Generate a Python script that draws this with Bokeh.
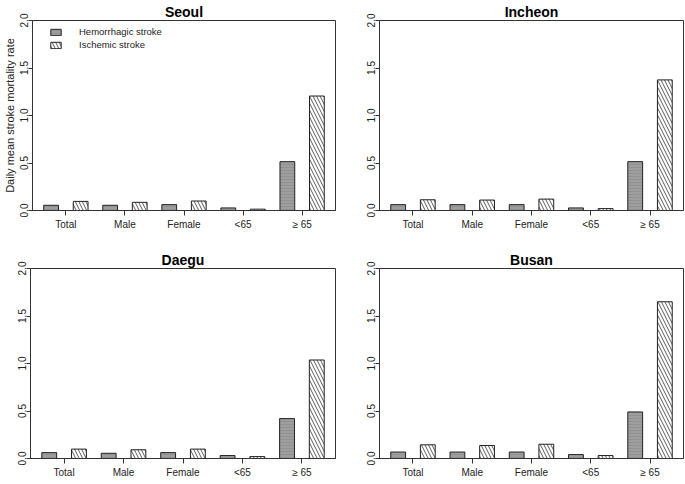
from bokeh.plotting import figure
from bokeh.models import Range1d, FixedTicker, Legend, LegendItem
from bokeh.layouts import column, row
from bokeh.embed import file_html
from bokeh.resources import INLINE

# ---------------- data ----------------
categories = ["Total", "Male", "Female", "<65", "\u2265 65"]
series_names = ["Hemorrhagic stroke", "Ischemic stroke"]

seoul_hem = [0.055, 0.055, 0.062, 0.027, 0.514]
seoul_isc = [0.096, 0.086, 0.100, 0.014, 1.205]

incheon_hem = [0.062, 0.062, 0.062, 0.027, 0.514]
incheon_isc = [0.113, 0.110, 0.120, 0.020, 1.375]

daegu_hem = [0.062, 0.055, 0.062, 0.031, 0.420]
daegu_isc = [0.099, 0.092, 0.099, 0.020, 1.037]

busan_hem = [0.068, 0.068, 0.068, 0.041, 0.490]
busan_isc = [0.144, 0.137, 0.150, 0.031, 1.650]

y_ticks = [0.0, 0.5, 1.0, 1.5, 2.0]
y_tick_labels = ["0.0", "0.5", "1.0", "1.5", "2.0"]
y_label = "Daily mean stroke mortality rate"

FONT = "Liberation Sans"
TXT = "#222222"
LINE = "#333333"


def make_panel(title, hem, isc, w, h, bl, br, bt, bb, ylabel=None, legend=False):
    n = len(categories)
    centers = [4 * i + 2.5 for i in range(n)]
    hem_x = [c - 1 for c in centers]
    isc_x = [c + 1 for c in centers]

    p = figure(width=w, height=h, output_backend="svg", toolbar_location=None,
               x_range=Range1d(0.24, 20.76), y_range=Range1d(0, 2),
               min_border_left=bl, min_border_right=br,
               min_border_top=bt, min_border_bottom=bb, title=title)
    p.background_fill_color = "white"
    p.border_fill_color = "white"
    p.outline_line_color = LINE
    p.outline_line_width = 1
    p.grid.visible = False

    p.title.text_font = FONT
    p.title.text_font_size = "14px"
    p.title.text_font_style = "bold"
    p.title.text_color = "black"
    p.title.align = "center"
    p.title.standoff = 2

    r1 = p.vbar(x=hem_x, top=hem, width=1.0, bottom=0,
                fill_color="#9e9e9e", line_color="#222222", line_width=1,
                hatch_pattern="-", hatch_color="#858585", hatch_scale=3, hatch_weight=0.5)
    r2 = p.vbar(x=isc_x, top=isc, width=1.0, bottom=0,
                fill_color="white", line_color="#222222", line_width=1,
                hatch_pattern="\\", hatch_color="#333333", hatch_scale=7, hatch_weight=0.8)

    xa = p.xaxis[0]
    xa.ticker = FixedTicker(ticks=centers)
    xa.major_label_overrides = {c: lab for c, lab in zip(centers, categories)}
    xa.minor_tick_line_color = None
    xa.major_tick_in = 0
    xa.major_tick_out = 5
    xa.major_tick_line_color = LINE
    xa.axis_line_color = LINE
    xa.major_label_text_font = FONT
    xa.major_label_text_font_size = "10px"
    xa.major_label_text_color = TXT
    xa.major_label_standoff = 3

    ya = p.yaxis[0]
    ya.ticker = FixedTicker(ticks=y_ticks)
    ya.major_label_overrides = {t: lab for t, lab in zip(y_ticks, y_tick_labels)}
    ya.minor_tick_line_color = None
    ya.major_tick_in = 0
    ya.major_tick_out = 4
    ya.major_tick_line_color = LINE
    ya.axis_line_color = LINE
    ya.major_label_orientation = "vertical"
    ya.major_label_text_font = FONT
    ya.major_label_text_font_size = "10px"
    ya.major_label_text_color = TXT
    ya.major_label_standoff = 1
    if ylabel:
        ya.axis_label = ylabel
        ya.axis_label_text_font = FONT
        ya.axis_label_text_font_size = "11px"
        ya.axis_label_text_font_style = "normal"
        ya.axis_label_text_color = TXT
        ya.axis_label_standoff = 1

    if legend:
        frame_h = h - bt - bb
        lg = Legend(items=[LegendItem(label=series_names[0], renderers=[r1]),
                           LegendItem(label=series_names[1], renderers=[r2])],
                    location=(17, frame_h - 13 - 26))
        lg.margin = 0
        lg.padding = 0
        lg.spacing = 0
        lg.border_line_color = None
        lg.background_fill_alpha = 0
        lg.glyph_width = 13
        lg.glyph_height = 8
        lg.label_height = 13
        lg.label_standoff = 17
        lg.label_text_font = FONT
        lg.label_text_font_size = "9.5px"
        lg.label_text_color = TXT
        p.add_layout(lg)
    return p


p1 = make_panel("Seoul", seoul_hem, seoul_isc, 349, 242, 30, 14, 12, 32, ylabel=y_label, legend=True)
p2 = make_panel("Incheon", incheon_hem, incheon_isc, 337, 242, 30, 3, 12, 32)
p3 = make_panel("Daegu", daegu_hem, daegu_isc, 349, 238, 30, 14, 26, 16)
p4 = make_panel("Busan", busan_hem, busan_isc, 337, 238, 30, 3, 26, 16)

layout = column(row(p1, p2), row(p3, p4))

open("out.html", "w").write(file_html(layout, INLINE))
